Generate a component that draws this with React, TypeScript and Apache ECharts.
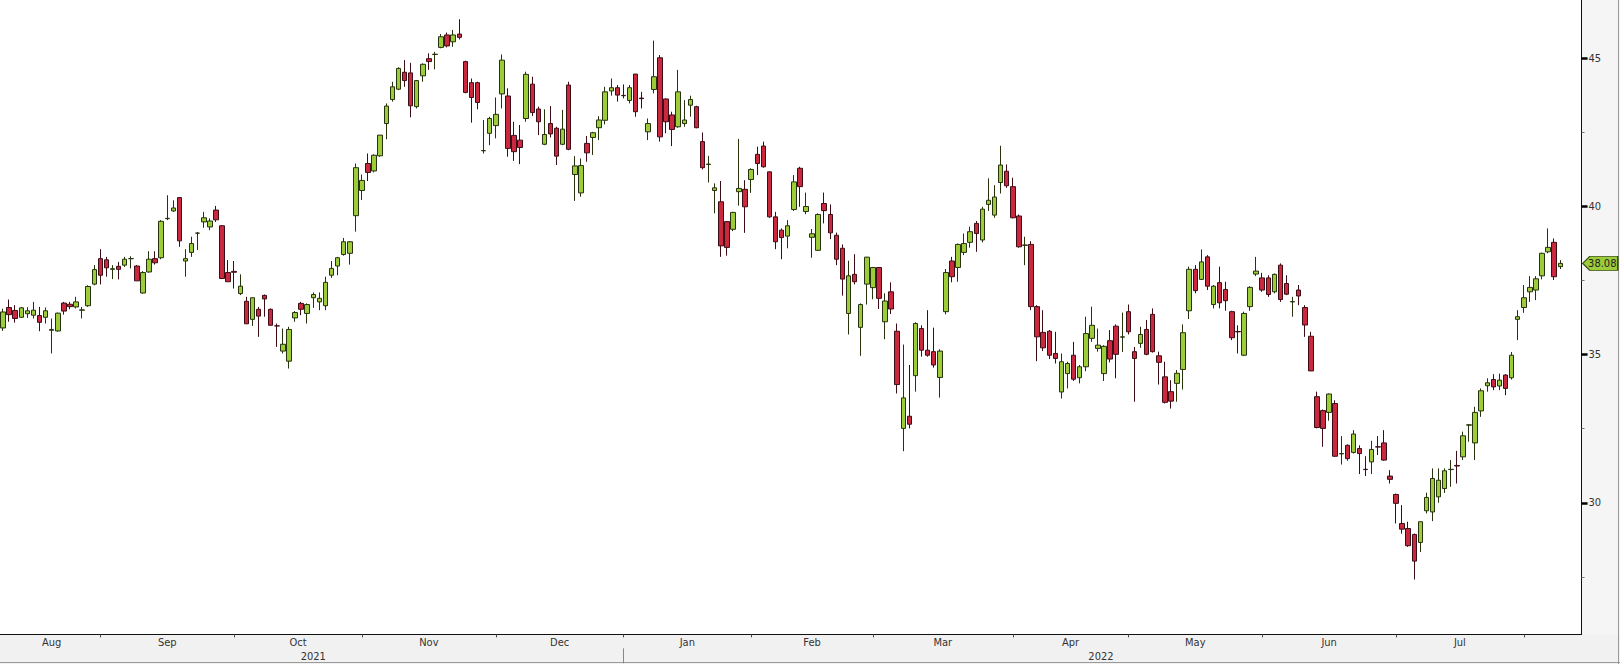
import React, { useEffect, useRef } from "react";
import * as echarts from "echarts";

// ---- calendar (trading days, weekends and exchange holidays removed) ----
const START_DATE = "2021-08-10";
const END_DATE = "2022-08-12";
const HOLIDAYS = ["2021-12-24", "2021-12-31", "2022-04-15", "2022-04-18"];
const MONTH_NAMES = ["Jan", "Feb", "Mar", "Apr", "May", "Jun", "Jul", "Aug", "Sep", "Oct", "Nov", "Dec"];

// ---- value axis ----
const Y_MIN = 25.56;
const Y_MAX = 46.97;
const Y_TICKS = [30, 35, 40, 45];
const Y_MINOR_TICKS = [27.5, 32.5, 37.5, 42.5];

// ---- daily OHLC ----
const opens = [
  35.90, 36.59, 36.49, 36.26, 36.38, 36.33, 36.32, 36.26, 35.82, 35.80,
  36.74, 36.70, 36.61, 36.50, 36.65, 37.38, 38.24, 38.20, 37.88, 37.98,
  38.02, 38.24, 37.99, 37.08, 37.79, 38.24, 38.27, 39.59, 39.85, 40.30,
  38.16, 38.45, 39.10, 39.48, 39.31, 39.88, 39.35, 37.77, 37.81, 37.06,
  36.80, 36.19, 36.53, 37.00, 36.53, 35.97, 35.12, 34.78, 36.24, 36.73,
  36.39, 36.92, 36.78, 36.65, 37.68, 37.99, 38.38, 38.42, 39.69, 40.54,
  41.45, 41.20, 41.71, 42.80, 43.61, 43.96, 44.53, 44.51, 43.37, 44.41,
  44.99, 45.13, 45.37, 45.79, 45.56, 45.82, 44.89, 44.18, 44.18, 41.88,
  42.47, 42.73, 43.80, 43.73, 42.40, 42.24, 42.97, 44.13, 43.29, 42.10,
  42.80, 42.64, 42.10, 44.10, 41.08, 40.46, 42.13, 42.33, 42.66, 42.91,
  43.90, 44.01, 43.75, 43.58, 44.47, 43.66, 42.52, 43.95, 45.02, 43.63,
  43.09, 42.69, 42.80, 43.42, 43.37, 42.19, 41.42, 40.54, 40.16, 39.49,
  39.23, 40.50, 40.58, 40.91, 41.76, 42.04, 41.17, 39.65, 39.20, 39.00,
  39.90, 41.29, 39.83, 38.96, 38.52, 40.10, 39.73, 39.03, 38.59, 36.39,
  37.71, 35.92, 37.38, 37.26, 37.94, 36.11, 37.12, 35.79, 32.51, 32.92,
  34.29, 35.88, 35.15, 35.10, 34.23, 36.45, 38.16, 37.94, 38.45, 38.79,
  39.43, 38.87, 40.07, 39.71, 40.81, 41.19, 40.67, 39.68, 38.69, 38.72,
  36.62, 35.75, 35.79, 35.04, 33.74, 34.36, 34.98, 34.22, 34.59, 35.55,
  35.21, 34.36, 35.47, 35.96, 35.59, 36.45, 35.10, 35.38, 35.85, 36.36,
  34.96, 34.25, 33.75, 34.03, 34.50, 36.48, 37.88, 37.54, 38.30, 36.69,
  37.43, 37.20, 36.45, 35.78, 34.98, 36.62, 37.72, 37.59, 37.59, 37.12,
  38.02, 37.40, 36.78, 37.18, 36.59, 35.62, 33.58, 33.11, 33.05, 33.35,
  31.65, 31.94, 31.70, 31.83, 31.13, 31.38, 31.89, 32.02, 30.90, 30.28,
  29.30, 29.13, 28.93, 28.66, 29.73, 29.69, 30.20, 30.48, 31.12, 31.26,
  31.55, 32.62, 32.02, 33.10, 33.95, 34.16, 33.94, 34.31, 34.22, 36.19,
  36.59, 37.12, 37.18, 37.66, 38.47, 38.79, 37.97,
];

const closes = [
  36.44, 36.35, 36.22, 36.58, 36.48, 36.50, 36.09, 36.48, 35.85, 36.40,
  36.47, 36.62, 36.78, 36.51, 37.30, 37.87, 37.68, 37.93, 37.90, 37.88,
  38.22, 38.24, 37.49, 37.77, 38.22, 38.10, 39.50, 39.60, 39.95, 38.84,
  38.24, 38.75, 39.10, 39.62, 39.51, 39.55, 37.57, 37.46, 37.78, 37.31,
  36.04, 36.92, 36.30, 36.88, 35.99, 35.97, 35.35, 35.85, 36.42, 36.53,
  36.69, 37.03, 36.90, 37.44, 37.91, 38.27, 38.81, 38.81, 41.31, 40.88,
  41.15, 41.73, 42.41, 43.39, 44.04, 44.66, 44.25, 43.40, 44.25, 44.80,
  44.89, 45.14, 45.73, 45.42, 45.79, 45.71, 43.85, 43.68, 43.51, 41.89,
  42.97, 43.11, 44.94, 41.96, 41.85, 41.99, 44.46, 43.17, 42.86, 42.43,
  42.45, 41.70, 42.61, 41.93, 41.37, 41.38, 41.81, 42.49, 42.92, 43.87,
  44.01, 43.76, 43.74, 44.01, 43.20, 43.64, 42.80, 44.38, 42.35, 42.86,
  42.60, 43.87, 42.92, 43.61, 42.66, 41.31, 41.43, 40.63, 38.67, 38.62,
  39.80, 40.61, 39.99, 41.25, 41.45, 41.34, 39.65, 38.81, 38.95, 39.35,
  40.83, 40.67, 40.00, 39.08, 39.73, 39.86, 39.11, 38.22, 37.55, 37.66,
  37.46, 36.69, 38.29, 37.94, 36.90, 36.81, 36.54, 33.99, 33.54, 32.65,
  36.05, 35.15, 34.98, 34.65, 35.12, 37.77, 37.63, 38.72, 38.75, 39.15,
  39.09, 39.91, 40.21, 40.32, 41.40, 40.70, 39.62, 38.64, 38.70, 36.62,
  35.60, 35.23, 34.98, 34.87, 34.76, 34.70, 34.17, 34.59, 35.71, 35.99,
  35.32, 35.28, 34.85, 35.01, 35.60, 35.77, 34.87, 35.68, 35.01, 35.10,
  34.74, 33.39, 33.43, 34.37, 35.74, 37.88, 37.16, 38.13, 37.31, 37.31,
  36.75, 36.82, 35.57, 35.77, 36.39, 37.27, 37.82, 37.18, 37.03, 37.71,
  36.86, 37.04, 36.79, 36.98, 36.00, 34.45, 32.54, 32.51, 33.67, 31.57,
  31.66, 31.49, 32.32, 31.66, 31.12, 31.80, 31.88, 31.44, 30.79, 29.98,
  29.11, 28.55, 28.03, 29.36, 30.18, 30.82, 30.76, 31.08, 31.13, 31.24,
  32.26, 32.63, 33.05, 33.78, 34.05, 33.91, 34.14, 33.86, 34.98, 36.28,
  36.92, 37.27, 37.56, 38.42, 38.62, 37.63, 38.08,
];

const lows = [
  35.80, 36.11, 36.08, 36.24, 36.24, 36.22, 35.79, 36.05, 35.04, 35.77,
  36.35, 36.53, 36.56, 36.22, 36.61, 37.34, 37.37, 37.63, 37.55, 37.54,
  37.96, 37.91, 37.49, 37.06, 37.77, 38.04, 38.22, 39.54, 39.82, 38.64,
  37.63, 38.30, 38.53, 39.28, 39.20, 39.48, 37.55, 37.46, 37.23, 37.01,
  36.04, 35.97, 35.60, 36.28, 35.99, 35.26, 35.04, 34.53, 36.11, 36.33,
  36.05, 36.58, 36.50, 36.50, 37.59, 37.68, 38.34, 38.04, 39.15, 40.22,
  40.86, 41.15, 41.68, 42.27, 43.54, 43.93, 44.04, 43.01, 43.31, 44.21,
  44.61, 44.63, 45.34, 45.37, 45.39, 45.64, 43.82, 42.83, 43.28, 41.79,
  42.07, 42.30, 43.31, 41.68, 41.54, 41.43, 42.86, 43.05, 42.41, 42.07,
  42.33, 41.40, 42.07, 41.90, 40.19, 40.33, 41.51, 41.74, 42.24, 42.77,
  43.74, 43.54, 43.65, 43.48, 43.03, 43.31, 42.24, 43.82, 42.19, 42.47,
  42.04, 42.66, 42.69, 43.03, 42.64, 41.25, 40.81, 39.77, 38.30, 38.34,
  39.17, 40.03, 39.11, 40.46, 41.06, 41.31, 39.62, 38.56, 38.22, 38.59,
  39.85, 39.99, 39.74, 38.27, 38.50, 39.43, 38.90, 38.02, 36.99, 35.68,
  37.37, 34.96, 36.69, 36.87, 36.54, 35.52, 36.37, 33.69, 31.74, 32.51,
  33.75, 34.93, 34.93, 34.56, 33.55, 36.36, 37.44, 37.46, 38.36, 38.61,
  38.47, 38.79, 39.85, 39.62, 40.44, 40.63, 39.60, 38.61, 38.02, 36.50,
  34.78, 35.12, 34.85, 34.70, 33.52, 33.86, 34.11, 34.03, 34.44, 35.43,
  35.10, 34.11, 34.74, 34.20, 35.09, 35.68, 33.41, 35.23, 34.98, 35.07,
  33.99, 33.35, 33.18, 33.41, 33.82, 36.20, 37.07, 37.52, 37.18, 36.56,
  36.56, 36.48, 35.49, 35.04, 34.95, 36.48, 37.65, 37.12, 36.95, 37.07,
  36.78, 37.01, 36.28, 36.67, 35.60, 34.45, 32.51, 31.89, 32.77, 31.55,
  31.29, 31.42, 31.66, 30.97, 30.90, 30.97, 31.61, 31.42, 30.65, 29.30,
  28.96, 28.51, 27.41, 28.34, 29.64, 29.38, 30.00, 30.33, 30.54, 30.65,
  31.44, 32.06, 31.44, 32.90, 33.75, 33.80, 33.80, 33.63, 34.16, 35.49,
  36.41, 36.78, 36.84, 37.54, 38.42, 37.52, 37.89,
];

const highs = [
  36.55, 36.86, 36.67, 36.61, 36.60, 36.78, 36.61, 36.59, 36.22, 36.42,
  36.78, 36.78, 36.95, 36.61, 37.34, 38.02, 38.56, 38.30, 38.02, 38.13,
  38.30, 38.32, 38.02, 37.82, 38.49, 38.49, 39.54, 40.38, 40.21, 40.30,
  38.56, 38.98, 39.14, 39.82, 39.60, 40.02, 39.37, 38.19, 38.16, 37.71,
  36.95, 36.92, 36.61, 37.03, 36.56, 36.05, 35.88, 35.94, 36.47, 36.78,
  36.73, 37.10, 37.10, 37.63, 38.16, 38.30, 38.94, 38.83, 41.45, 41.08,
  41.79, 41.76, 42.41, 43.48, 44.21, 44.70, 44.94, 44.85, 44.27, 44.83,
  45.17, 45.22, 45.82, 45.87, 45.96, 46.32, 44.92, 44.32, 44.21, 42.92,
  43.03, 43.68, 45.13, 43.99, 42.86, 42.75, 44.55, 44.38, 43.37, 43.28,
  43.39, 42.69, 43.26, 44.21, 41.70, 41.62, 42.38, 42.52, 43.05, 44.04,
  44.32, 44.10, 44.12, 44.10, 44.47, 43.87, 42.97, 45.60, 45.11, 43.65,
  43.20, 44.61, 43.59, 43.74, 43.40, 42.50, 41.71, 40.78, 40.86, 39.51,
  39.82, 42.28, 40.89, 41.29, 42.02, 42.19, 41.17, 39.82, 39.26, 39.54,
  41.06, 41.34, 40.47, 39.24, 39.77, 40.47, 40.07, 39.12, 38.72, 38.17,
  38.39, 36.73, 38.30, 37.96, 37.96, 37.07, 37.44, 36.05, 35.34, 34.65,
  36.09, 35.99, 36.50, 35.91, 35.18, 37.89, 38.30, 38.75, 39.09, 39.32,
  39.51, 39.99, 40.95, 40.72, 42.05, 41.42, 40.97, 39.73, 38.98, 38.83,
  36.67, 36.50, 35.83, 35.77, 35.04, 34.76, 35.43, 34.65, 36.28, 36.62,
  35.88, 35.32, 35.83, 36.02, 36.42, 36.69, 35.26, 35.94, 36.17, 36.56,
  35.10, 34.76, 34.14, 34.48, 36.02, 37.97, 38.02, 38.55, 38.36, 37.35,
  37.97, 37.46, 36.48, 35.99, 36.45, 37.31, 38.30, 37.76, 37.68, 37.74,
  38.08, 37.68, 36.95, 37.35, 36.67, 35.77, 33.75, 33.15, 33.69, 33.46,
  32.25, 31.97, 32.45, 31.94, 31.57, 32.09, 32.25, 32.45, 31.10, 30.31,
  29.92, 29.36, 28.96, 29.36, 30.34, 31.16, 31.16, 31.16, 31.44, 31.75,
  32.40, 32.65, 33.24, 33.86, 34.20, 34.34, 34.36, 34.34, 35.09, 36.50,
  37.35, 37.65, 37.65, 38.44, 39.26, 38.92, 38.19,
];

const FONT = "'Liberation Sans Narrow', 'DejaVu Sans Condensed', 'Liberation Sans', Arial, sans-serif";

function tradingDays(): string[] {
  const out: string[] = [];
  const d = new Date(START_DATE + "T00:00:00Z");
  const end = new Date(END_DATE + "T00:00:00Z");
  while (d.getTime() <= end.getTime()) {
    const dow = d.getUTCDay();
    const s = d.toISOString().slice(0, 10);
    if (dow !== 0 && dow !== 6 && HOLIDAYS.indexOf(s) < 0) out.push(s);
    d.setUTCDate(d.getUTCDate() + 1);
  }
  return out;
}

type Lbl = { text: string; half: boolean };

function buildOption() {
  const cats = tradingDays();
  const n = cats.length;
  const candles = opens.map((o, i) => [o, closes[i], lows[i], highs[i]]);

  // month starts
  const monthStarts: number[] = [];
  const yearStarts: number[] = [];
  for (let i = 1; i < n; i++) {
    if (cats[i].slice(0, 7) !== cats[i - 1].slice(0, 7)) monthStarts.push(i);
    if (cats[i].slice(0, 4) !== cats[i - 1].slice(0, 4)) yearStarts.push(i);
  }
  const monthTickSet = new Set(monthStarts);
  const yearTickSet = new Set(yearStarts);

  const monthLabels = new Map<number, Lbl>();
  const mb = [0, ...monthStarts];
  for (let j = 0; j < mb.length - 1; j++) {
    const s = mb[j];
    const e = mb[j + 1];
    const mid = (s + e) / 2;
    const text = MONTH_NAMES[parseInt(cats[s].slice(5, 7), 10) - 1];
    monthLabels.set(Math.floor(mid), { text, half: mid % 1 !== 0 });
  }
  const yearLabels = new Map<number, Lbl>();
  const yb = [0, ...yearStarts, n - 1];
  for (let j = 0; j < yb.length - 1; j++) {
    const s = yb[j];
    const e = yb[j + 1];
    const mid = (s + e) / 2;
    yearLabels.set(Math.floor(mid), { text: cats[s].slice(0, 4), half: mid % 1 !== 0 });
  }

  const gridLeft = -3.45;
  const gridRight = 1581.55;
  const lastIdx = closes.length - 1;
  const lastClose = closes[lastIdx];

  const richBase = { fontSize: 11, color: "#333", fontFamily: FONT };
  const rich = {
    n: { ...richBase },
    h: { ...richBase, padding: [0, 0, 0, 6] },
  };

  return {
    animation: false,
    graphic: [
      { type: "rect", z: -10, silent: true, shape: { x: 1582, y: 0, width: 38, height: 664 }, style: { fill: "#f5f5f5" } },
      { type: "rect", z: -10, silent: true, shape: { x: 0, y: 634.5, width: 1620, height: 30 }, style: { fill: "#f1f1f1" } },
      { type: "line", z: -9, silent: true, shape: { x1: 1618.5, y1: 0, x2: 1618.5, y2: 664 }, style: { stroke: "#9a9a9a", lineWidth: 1 } },
      { type: "line", z: -9, silent: true, shape: { x1: 0, y1: 662.5, x2: 1620, y2: 662.5 }, style: { stroke: "#9a9a9a", lineWidth: 1 } },
    ],
    grid: { left: gridLeft, top: 0, width: gridRight - gridLeft, height: 634.3 },
    xAxis: [
      {
        type: "category",
        data: cats,
        boundaryGap: true,
        position: "bottom",
        axisLine: { show: true, lineStyle: { color: "#111", width: 1 } },
        axisTick: {
          show: true,
          alignWithLabel: true,
          length: 3,
          interval: (i: number) => monthTickSet.has(i),
          lineStyle: { color: "#444" },
        },
        axisLabel: {
          show: true,
          margin: 3,
          interval: (i: number) => monthLabels.has(i),
          formatter: (_v: string, i: number) => {
            const l = monthLabels.get(i);
            if (!l) return "";
            return l.half ? `{h|${l.text}}` : `{n|${l.text}}`;
          },
          rich,
        },
        splitLine: { show: false },
      },
      {
        type: "category",
        data: cats,
        boundaryGap: true,
        position: "bottom",
        offset: 14,
        axisLine: { show: false },
        axisTick: {
          show: true,
          alignWithLabel: true,
          length: 15,
          interval: (i: number) => yearTickSet.has(i),
          lineStyle: { color: "#888" },
        },
        axisLabel: {
          show: true,
          margin: 3,
          interval: (i: number) => yearLabels.has(i),
          formatter: (_v: string, i: number) => {
            const l = yearLabels.get(i);
            if (!l) return "";
            return l.half ? `{h|${l.text}}` : `{n|${l.text}}`;
          },
          rich,
        },
        splitLine: { show: false },
      },
    ],
    yAxis: [
      {
        type: "value",
        position: "right",
        min: Y_MIN,
        max: Y_MAX,
        scale: true,
        axisLine: { show: true, lineStyle: { color: "#111", width: 1 } },
        axisTick: { show: true, customValues: Y_TICKS, length: 6, lineStyle: { color: "#000", width: 2.5 } },
        axisLabel: {
          show: true,
          customValues: Y_TICKS,
          margin: 7,
          color: "#333",
          fontSize: 11,
          fontFamily: FONT,
          formatter: (v: number) => String(v),
        },
        splitLine: { show: false },
      },
      {
        type: "value",
        position: "right",
        min: Y_MIN,
        max: Y_MAX,
        scale: true,
        axisLine: { show: false },
        axisTick: { show: true, customValues: Y_MINOR_TICKS, length: 3, lineStyle: { color: "#777", width: 1 } },
        axisLabel: { show: false },
        splitLine: { show: false },
      },
    ],
    series: [
      {
        type: "candlestick",
        xAxisIndex: 0,
        yAxisIndex: 0,
        data: candles,
        barWidth: 5,
        itemStyle: {
          color: "#9dcc3a",
          color0: "#c9283f",
          borderColor: "#26330c",
          borderColor0: "#3d0d16",
          borderWidth: 1,
        },
        markPoint: {
          silent: true,
          animation: false,
          symbol: "path://M0,7 L7,0 L35,0 L35,14 L7,14 Z",
          symbolSize: [35, 14],
          symbolKeepAspect: false,
          itemStyle: { color: "#9dcc3a", borderColor: "#3a5210", borderWidth: 1 },
          label: {
            show: true,
            position: "inside",
            offset: [2, 0],
            color: "#222",
            fontSize: 11,
            fontFamily: FONT,
            formatter: () => lastClose.toFixed(2),
          },
          data: [{ coord: [cats[lastIdx], lastClose], value: lastClose, symbolOffset: [40, 0] }],
        },
      },
    ],
  };
}

export default function App() {
  const ref = useRef<HTMLDivElement>(null);
  useEffect(() => {
    if (!ref.current) return;
    const chart = echarts.init(ref.current, undefined, { renderer: "svg" });
    chart.setOption(buildOption() as any);
    return () => chart.dispose();
  }, []);
  return (
    <div
      ref={ref}
      style={{ position: "fixed", left: 0, top: 0, width: 1620, height: 664, background: "#ffffff" }}
    />
  );
}
